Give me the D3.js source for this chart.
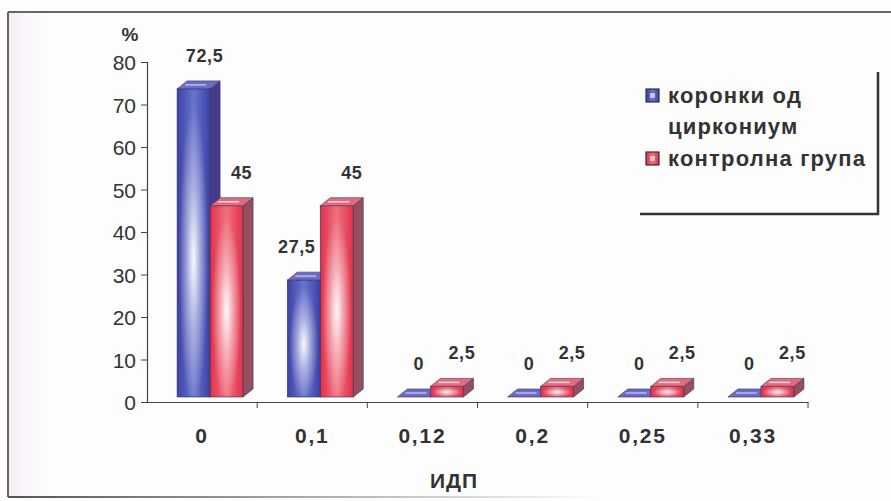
<!DOCTYPE html>
<html>
<head>
<meta charset="utf-8">
<script src="https://cdn.jsdelivr.net/npm/d3@7"></script>
<style>
  html, body { margin: 0; padding: 0; background: #fff; }
  svg { display: block; }
  text { font-family: "Liberation Sans", Arial, sans-serif; fill: #333; }
</style>
</head>
<body>
<svg id="chart" width="891" height="501"></svg>
<script>
// Distribution of the index (ИДП) for the two groups, in percent
const categories = ["0", "0,1", "0,12", "0,2", "0,25", "0,33"];
const seriesNames = ["коронки од циркониум", "контролна група"];
const zirconia = [72.5, 27.5, 0, 0, 0, 0];
const control = [45, 45, 2.5, 2.5, 2.5, 2.5];
const yTicks = [0, 10, 20, 30, 40, 50, 60, 70, 80];
const valueLabels = [
  ["72,5", "27,5", "0", "0", "0", "0"],
  ["45", "45", "2,5", "2,5", "2,5", "2,5"]
];

const svg = d3.select("#chart");
const W = 891, H = 501;

// page background with a faint tint near the left edge
const defs = svg.append("defs");
const tint = defs.append("linearGradient").attr("id", "leftTint")
  .attr("x1", 0).attr("x2", 1).attr("y1", 0).attr("y2", 0);
tint.append("stop").attr("offset", 0).attr("stop-color", "#f5ebf4").attr("stop-opacity", 1);
tint.append("stop").attr("offset", 1).attr("stop-color", "#ffffff").attr("stop-opacity", 0);
svg.append("rect").attr("x", 0).attr("y", 0).attr("width", W).attr("height", H).attr("fill", "#fefdfe");
svg.append("rect").attr("x", 8).attr("y", 12).attr("width", 50).attr("height", 486).attr("fill", "url(#leftTint)");

// outer frame
const fade = defs.append("linearGradient").attr("id", "bottomFade")
  .attr("gradientUnits", "userSpaceOnUse").attr("x1", 8).attr("x2", 600).attr("y1", 0).attr("y2", 0);
fade.append("stop").attr("offset", 0).attr("stop-color", "#555");
fade.append("stop").attr("offset", 1).attr("stop-color", "#555").attr("stop-opacity", 0);
svg.append("line").attr("x1", 8).attr("x2", W).attr("y1", 12).attr("y2", 12)
  .attr("stroke", "#666").attr("stroke-width", 2);
svg.append("line").attr("x1", 8).attr("x2", 8).attr("y1", 12).attr("y2", 497)
  .attr("stroke", "#666").attr("stroke-width", 2);
svg.append("line").attr("x1", 8).attr("x2", 600).attr("y1", 497).attr("y2", 497)
  .attr("stroke", "url(#bottomFade)").attr("stroke-width", 2);

// scales
const y = d3.scaleLinear().domain([0, 80]).range([402, 62]);
const x = d3.scaleBand().domain(categories).range([147, 808]).padding(0);
const bw = x.bandwidth();
const xs = d3.scaleBand().domain(seriesNames).range([0, 66]).padding(0);
const barW = xs.bandwidth();
const depthX = 10, depthY = 8, lift = 5;   // 3-D depth of the columns

// gradients for column faces
function hGrad(id, edge, mid) {
  const g = defs.append("linearGradient").attr("id", id)
    .attr("x1", 0).attr("x2", 1).attr("y1", 0).attr("y2", 0);
  g.append("stop").attr("offset", 0).attr("stop-color", edge);
  g.append("stop").attr("offset", 0.5).attr("stop-color", mid);
  g.append("stop").attr("offset", 1).attr("stop-color", edge);
}
hGrad("blueFront", "#3a42a6", "#6a74cc");
hGrad("redFront", "#e0304a", "#f07080");
const glow = defs.append("radialGradient").attr("id", "glow")
  .attr("cx", 0.5).attr("cy", 0.55).attr("r", 0.5);
glow.append("stop").attr("offset", 0).attr("stop-color", "#fff").attr("stop-opacity", 0.95);
glow.append("stop").attr("offset", 0.45).attr("stop-color", "#fff").attr("stop-opacity", 0.45);
glow.append("stop").attr("offset", 1).attr("stop-color", "#fff").attr("stop-opacity", 0);

const styles = [
  { front: "url(#blueFront)", side: "#473b8c", top: "#6c6cc6", topLine: "#b8bcf0" },
  { front: "url(#redFront)", side: "#945060", top: "#e46a7c", topLine: "#ffd6dc" }
];

const data = categories.map((c, i) => ({ cat: c, vals: [zirconia[i], control[i]] }));

const bars = svg.append("g");
data.forEach((d, ci) => {
  d.vals.forEach((v, si) => {
    const st = styles[si];
    const x0 = x(d.cat) + bw / 2 - 25 + xs(seriesNames[si]);
    const yb = y(0) - lift;
    const yt = y(v) - lift;
    const g = bars.append("g");
    if (v > 0) {
      // side face
      g.append("path").attr("d",
        `M${x0 + barW},${yt} L${x0 + barW + depthX},${yt - depthY} L${x0 + barW + depthX},${yb - depthY} L${x0 + barW},${yb} Z`)
        .attr("fill", st.side).attr("stroke", "#3a3050").attr("stroke-width", 0.6);
      // front face
      g.append("rect").attr("x", x0).attr("y", yt).attr("width", barW).attr("height", yb - yt)
        .attr("fill", st.front).attr("stroke", "#3a3050").attr("stroke-width", 0.6);
      g.append("rect").attr("x", x0 + 2).attr("y", yt + 1).attr("width", barW - 4).attr("height", yb - yt - 2)
        .attr("fill", "url(#glow)");
    }
    // top face
    g.append("path").attr("d",
      `M${x0},${yt} L${x0 + barW},${yt} L${x0 + barW + depthX},${yt - depthY} L${x0 + depthX},${yt - depthY} Z`)
      .attr("fill", st.top).attr("stroke", "#3a3050").attr("stroke-width", 0.6);
    g.append("line").attr("x1", x0 + 8).attr("x2", x0 + barW - 4)
      .attr("y1", yt - depthY / 2).attr("y2", yt - depthY / 2)
      .attr("stroke", st.topLine).attr("stroke-width", 1.5);

    // value label
    let dx = si === 1 ? 10 : 0;
    if (si === 0 && v > 0 && v < d.vals[1]) dx = -12;
    if (si === 0 && v >= d.vals[1]) dx = 6;
    svg.append("text")
      .attr("x", x0 + barW / 2 + depthX / 2 + dx)
      .attr("y", yt - depthY - 26 + 7)
      .attr("text-anchor", "middle")
      .style("font-size", "18px").style("font-weight", "bold").style("letter-spacing", "0.6px")
      .text(valueLabels[si][ci]);
  });
});

// y axis
const yAxis = svg.append("g").attr("transform", "translate(147,0)")
  .call(d3.axisLeft(y).tickValues(yTicks).tickSize(6).tickPadding(5).tickFormat(d3.format("d")));
yAxis.attr("font-size", null).attr("font-family", null);
yAxis.select(".domain").attr("stroke", "#444").attr("stroke-width", 1.2);
yAxis.selectAll(".tick line").attr("stroke", "#444");
yAxis.selectAll("text").style("font-size", "21px").style("fill", "#333").attr("dy", "0.36em");

// x axis
const xAxis = svg.append("g").attr("transform", "translate(0,402)")
  .call(d3.axisBottom(x).tickSize(0).tickPadding(0).tickSizeOuter(0));
xAxis.attr("font-size", null).attr("font-family", null);
xAxis.select(".domain").attr("stroke", "#444").attr("stroke-width", 1.2);
xAxis.selectAll("text").attr("y", 41).attr("dy", null)
  .style("font-size", "21px").style("font-weight", "bold").style("letter-spacing", "1.8px")
  .style("fill", "#333");
// category boundary ticks
svg.append("g").selectAll("line")
  .data(categories.slice(1).concat(["end"]))
  .join("line")
  .attr("x1", d => d === "end" ? x.range()[1] : x(d))
  .attr("x2", d => d === "end" ? x.range()[1] : x(d))
  .attr("y1", 402).attr("y2", 408).attr("stroke", "#444");

// axis titles
svg.append("text").attr("x", 130).attr("y", 41).attr("text-anchor", "middle")
  .style("font-family", "'Liberation Sans Narrow', 'Liberation Sans', sans-serif")
  .style("font-size", "19px").style("font-weight", "bold").text("%");
svg.append("text").attr("x", 454).attr("y", 488).attr("text-anchor", "middle")
  .style("font-size", "21px").style("font-weight", "bold").style("letter-spacing", "1px").text("ИДП");

// legend
const lg = svg.append("g");
lg.append("path").attr("d", "M878,72 L878,214 L640,214")
  .attr("fill", "none").attr("stroke", "#333").attr("stroke-width", 2.5);
const legendRows = [
  { lines: ["коронки од", "циркониум"], y: 96, fill: "url(#blueFront)" },
  { lines: ["контролна група"], y: 159, fill: "url(#redFront)" }
];
legendRows.forEach(r => {
  lg.append("rect").attr("x", 646).attr("y", r.y - 7).attr("width", 13).attr("height", 13)
    .attr("fill", r.fill).attr("stroke", "#333").attr("stroke-width", 1.2);
  lg.append("rect").attr("x", 650).attr("y", r.y - 3).attr("width", 5).attr("height", 5)
    .attr("fill", "#fff").attr("opacity", 0.6);
  r.lines.forEach((t, i) => {
    lg.append("text").attr("x", 668).attr("y", r.y + 7 + i * 31)
      .style("font-size", "22px").style("font-weight", "bold").style("letter-spacing", "1.2px")
      .text(t);
  });
});
</script>
</body>
</html>
